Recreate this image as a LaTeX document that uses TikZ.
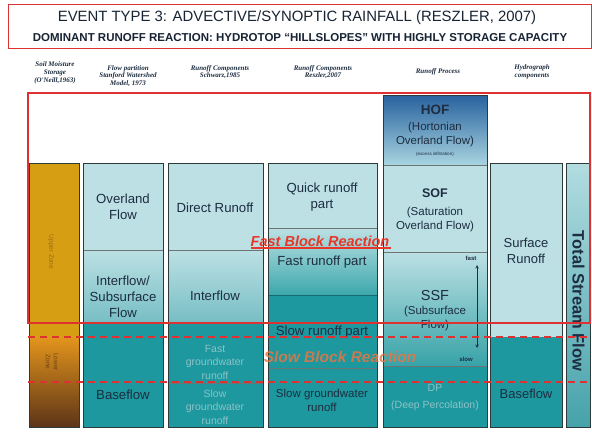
\documentclass[tikz,border=0pt]{standalone}
\usepackage{fontspec}
\setmainfont{Liberation Sans}
\newfontfamily\hdrfont{Liberation Serif}
\definecolor{lc}{RGB}{188,224,228}
\definecolor{tl}{RGB}{28,152,158}
\definecolor{mt}{RGB}{118,190,196}
\definecolor{gd}{RGB}{214,158,18}
\definecolor{og}{RGB}{226,148,28}
\definecolor{bm}{RGB}{160,96,26}
\definecolor{br}{RGB}{92,52,24}
\definecolor{hb}{RGB}{40,98,158}
\definecolor{hl}{RGB}{168,212,224}
\definecolor{rd}{RGB}{222,50,50}
\definecolor{bd}{RGB}{45,58,60}
\definecolor{tx}{RGB}{30,45,65}
\definecolor{ft}{RGB}{140,195,200}
\definecolor{zt}{RGB}{155,105,20}
\definecolor{fb}{RGB}{232,55,40}
\definecolor{sb}{RGB}{230,118,68}
\tikzset{
  cell/.style={draw=bd, line width=1pt},
  sep/.style={draw=bd!70, line width=0.6pt},
  boxtext/.style={text=tx, font=\fontsize{11.5}{14}\selectfont, align=center, inner sep=0pt},
  bigtext/.style={text=tx, font=\fontsize{13.2}{16}\selectfont, align=center, inner sep=0pt},
  faint/.style={text=ft, font=\fontsize{10.5}{13.5}\selectfont, align=center, inner sep=0pt},
  hdr/.style={text=tx, font=\hdrfont\bfseries\itshape\fontsize{7}{7.8}\selectfont, align=center, inner sep=0pt},
  redline/.style={draw=rd, line width=1.3pt},
  reddash/.style={draw=rd, line width=1.7pt, dash pattern=on 7pt off 5pt},
}
\begin{document}
\begin{tikzpicture}[x=1pt,y=-1pt]
\useasboundingbox (0,0) rectangle (592,434);
\fill[white] (0,0) rectangle (592,434);

% title box
\draw[draw=rd, line width=1pt] (8,4) rectangle (591.5,48);
\node[text=tx!80!black, font=\fontsize{14.9}{17}\selectfont, inner sep=0pt] (title) at (297,18) {EVENT TYPE 3: ADVECTIVE/SYNOPTIC RAINFALL (RESZLER, 2007)};
\node[text=tx!80!black, font=\bfseries\fontsize{11.5}{13}\selectfont, inner sep=0pt] (subtitle) at (300,38) {DOMINANT RUNOFF REACTION: HYDROTOP \char"201C HILLSLOPES\char"201D{} WITH HIGHLY STORAGE CAPACITY};

% column headers
\node[hdr] (h1) at (55,73) {Soil Moisture\\Storage\\(O'Neill,1963)};
\node[hdr] (h2) at (128,76) {Flow partition\\Stanford Watershed\\Model, 1973};
\node[hdr] (h3) at (220,72) {Runoff Components\\Schwarz,1985};
\node[hdr] (h4) at (323,72) {Runoff Components\\Reszler,2007};
\node[hdr] (h5) at (438,72) {Runoff Process};
\node[hdr] (h6) at (532,72) {Hydrograph\\components};

% column 1: soil moisture
\fill[gd] (29,163) rectangle (79,338);
\shade[top color=og, middle color=bm, bottom color=br] (29,338) rectangle (79,427);
\draw[cell] (29,163) rectangle (79,427);
\node[rotate=-90, text=zt, font=\fontsize{6.5}{7}\selectfont, inner sep=0pt] (upper) at (51,252) {Upper Zone};
\node[rotate=-90, text=bm!70!black, font=\fontsize{6.5}{8}\selectfont, align=center, inner sep=0pt] (lower) at (52,362) {Lower\\Zone};

% column 2: Stanford
\fill[lc] (83,163) rectangle (163,250);
\shade[top color=lc, bottom color=mt] (83,250) rectangle (163,323);
\fill[tl] (83,323) rectangle (163,427);
\draw[sep] (83,250) -- (163,250);
\draw[cell] (83,163) rectangle (163,427);
\node[bigtext] (overland) at (123,207) {Overland\\Flow};
\node[bigtext] (interflow) at (123,297) {Interflow/\\Subsurface\\Flow};
\node[bigtext] (base1) at (123,395) {Baseflow};

% column 3: Schwarz
\fill[lc] (168,163) rectangle (263,250);
\shade[top color=lc, bottom color=mt] (168,250) rectangle (263,323);
\fill[tl] (168,323) rectangle (263,427);
\draw[sep] (168,250) -- (263,250);
\draw[sep] (168,383) -- (263,383);
\draw[cell] (168,163) rectangle (263,427);
\node[bigtext] (direct) at (215,208) {Direct Runoff};
\node[bigtext] (interflow2) at (215,296) {Interflow};
\node[faint] (fastgw) at (215,362) {Fast\\groundwater\\runoff};
\node[faint] (slowgw) at (215,407) {Slow\\groundwater\\runoff};

% column 4: Reszler
\fill[lc] (268,163) rectangle (377,228);
\shade[top color=lc, bottom color={rgb,255:red,60;green,168;blue,172}] (268,228) rectangle (377,295);
\fill[tl] (268,295) rectangle (377,427);
\draw[sep] (268,228) -- (377,228);
\draw[draw=tl!70!black, line width=0.8pt] (268,295) -- (377,295);
\draw[sep] (268,368) -- (377,368);
\draw[cell] (268,163) rectangle (377,427);
\node[bigtext] (quick) at (322,197) {Quick runoff\\part};
\node[bigtext] (fastpart) at (322,262) {Fast runoff part};
\node[bigtext] (slowpart) at (322,332) {Slow runoff part};
\node[boxtext] (slowgw2) at (322,400) {Slow groundwater\\runoff};

% column 5: runoff process
\shade[top color=hb, bottom color=hl] (383,95) rectangle (487,165);
\fill[lc] (383,165) rectangle (487,252);
\shade[top color=lc, middle color={rgb,255:red,165;green,212;blue,216}, bottom color={rgb,255:red,55;green,163;blue,168}] (383,252) rectangle (487,366);
\fill[tl] (383,366) rectangle (487,427);
\draw[sep] (383,165) -- (487,165);
\draw[sep] (383,252) -- (487,252);
\draw[sep] (383,366) -- (487,366);
\draw[cell] (383,95) rectangle (487,427);
\node[text=tx, font=\bfseries\fontsize{13.5}{15}\selectfont, inner sep=0pt] (hof) at (435,110) {HOF};
\node[boxtext] (hoft) at (435,135) {(Hortonian\\Overland Flow)};
\node[text=tx, font=\fontsize{4.5}{5}\selectfont, inner sep=0pt] (hofs) at (435,154) {(excess infiltration)};
\node[text=tx, font=\bfseries\fontsize{12.5}{14}\selectfont, inner sep=0pt] (sof) at (435,193) {SOF};
\node[boxtext] (soft) at (435,219.5) {(Saturation\\Overland Flow)};
\node[text=tx, font=\fontsize{14.5}{16}\selectfont, inner sep=0pt] (ssf) at (435,296) {SSF};
\node[boxtext] (ssft) at (435,318.5) {(Subsurface\\Flow)};
\node[faint] (dp) at (435,388) {DP};
\node[faint] (dpt) at (435,406) {(Deep Percolation)};
\coordinate (atop) at (477,265);
\coordinate (abot) at (477,348);
\draw[<->, >=stealth, draw=tx, line width=0.6pt] (atop) -- (abot);
\node[text=tx, font=\bfseries\fontsize{6}{7}\selectfont, inner sep=0pt] (fast) at (471,258) {fast};
\node[text=tx, font=\bfseries\fontsize{6}{7}\selectfont, inner sep=0pt] (slow) at (466,359) {slow};

% column 6: hydrograph
\fill[lc] (490,163) rectangle (562,337);
\fill[tl] (490,337) rectangle (562,427);
\draw[cell] (490,163) rectangle (562,427);
\node[bigtext, font=\fontsize{13}{15.5}\selectfont] (surface) at (526,251) {Surface\\Runoff};
\node[bigtext, font=\fontsize{13}{15.5}\selectfont] (base2) at (526,394) {Baseflow};

% column 7: total stream flow
\shade[top color={rgb,255:red,178;green,220;blue,224}, bottom color={rgb,255:red,70;green,162;blue,170}] (566,163) rectangle (590,427);
\draw[cell] (566,163) rectangle (590,427);
\node[rotate=-90, text=tx, font=\bfseries\fontsize{16.5}{18}\selectfont, inner sep=0pt] (total) at (578.5,301) {Total Stream Flow};

% red overlays
\draw[redline] (28,93) rectangle (590,323);
\draw[reddash] (28,337) -- (590,337);
\draw[reddash] (28,382) -- (590,382);
\node[text=fb, font=\bfseries\itshape\fontsize{14.5}{16}\selectfont, inner sep=0pt] (fastblock) at (320,241) {Fast Block Reaction};
\coordinate (ulA) at (251,248);
\coordinate (ulB) at (391,248);
\draw[draw=fb, line width=1.3pt] (ulA) -- (ulB);
\node[text=sb, font=\bfseries\itshape\fontsize{15.5}{17}\selectfont, inner sep=0pt, opacity=0.85] (slowblock) at (340,357) {Slow Block Reaction};
\end{tikzpicture}
\end{document}
